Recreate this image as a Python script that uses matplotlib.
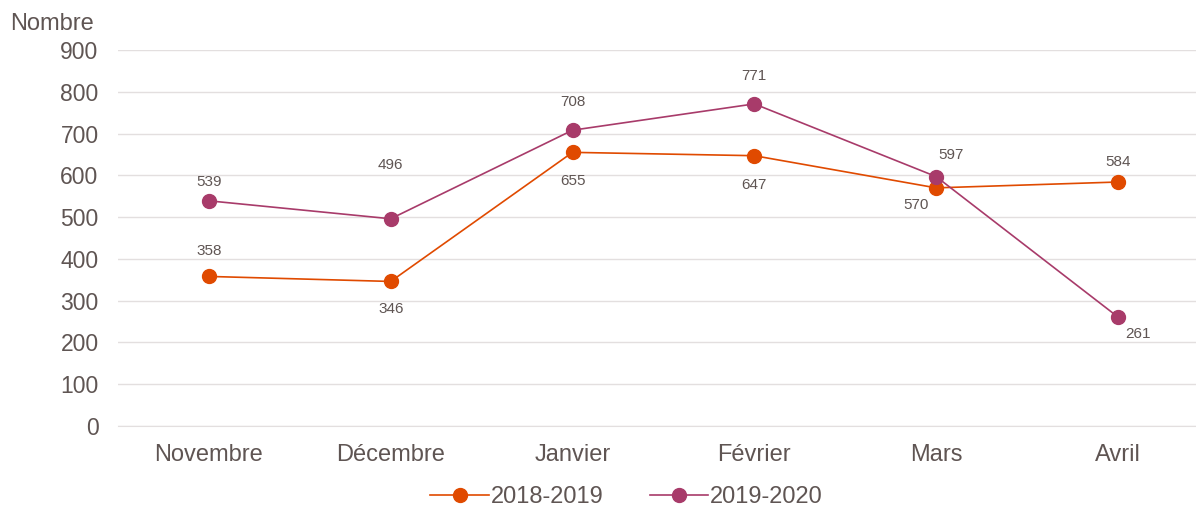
import matplotlib
matplotlib.use("Agg")
import matplotlib.pyplot as plt

categories = ["Novembre", "Décembre", "Janvier", "Février", "Mars", "Avril"]
s1_name = "2018-2019"
s1 = [358, 346, 655, 647, 570, 584]
s2_name = "2019-2020"
s2 = [539, 496, 708, 771, 597, 261]
yticks = [0, 100, 200, 300, 400, 500, 600, 700, 800, 900]

plt.rcParams['font.family'] = ['Liberation Sans', 'DejaVu Sans']
txt = '#5f5553'
c1 = '#e04a00'
c2 = '#a83b6a'

fig = plt.figure(figsize=(11.96, 5.09), dpi=100)
ax = fig.add_axes([118/1196, 1-426/509, 1-118/1196, (426-50)/509])
x = list(range(len(categories)))
ax.plot(x, s1, color=c1, lw=1.2, marker='o', ms=10, label=s1_name, zorder=3)
ax.plot(x, s2, color=c2, lw=1.2, marker='o', ms=10, label=s2_name, zorder=3)

ax.set_xlim(-0.5, (1196-210)/181.6)
ax.set_ylim(0, 900)
ax.set_yticks(yticks)
ax.set_xticks(x)
ax.set_xticklabels(categories)
ax.grid(axis='y', color='#e3dfdf', lw=1)
ax.set_axisbelow(True)
for s in ax.spines.values():
    s.set_visible(False)
ax.spines['bottom'].set_visible(True)
ax.spines['bottom'].set_color('#e3dfdf')
ax.tick_params(length=0, colors=txt)
ax.tick_params(axis='x', pad=13, labelsize=17)
ax.tick_params(axis='y', pad=14, labelsize=16.5)

# data label offsets in pixels (dx, dy up)
off1 = [(0, 25), (0, -28), (0, -29), (0, -29), (-20, -17), (0, 20)]
off2 = [(0, 19), (0, 54), (0, 28), (0, 28), (15, 22), (20, -17)]
for vals, offs in [(s1, off1), (s2, off2)]:
    for xi, v, (dx, dy) in zip(x, vals, offs):
        ax.annotate(str(v), (xi, v), xytext=(dx*0.72, dy*0.72), textcoords='offset points',
                    ha='center', va='center', fontsize=11, color=txt)

fig.text(10/1196, 1-24/509, "Nombre", fontsize=17, color=txt, ha='left', va='center')

leg = fig.legend(loc='center', bbox_to_anchor=(0.524, 1-497/509), ncol=2, frameon=False,
                 fontsize=17, handlelength=2.46, columnspacing=1.95, handletextpad=0.1)
for t in leg.get_texts():
    t.set_color(txt)

fig.savefig("out.png", dpi=100)
